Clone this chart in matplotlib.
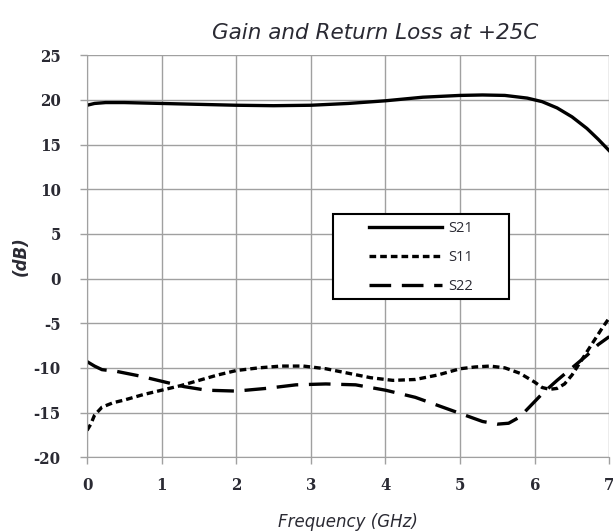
import matplotlib.pyplot as plt
from matplotlib.patches import Rectangle

plt.rcParams['axes.unicode_minus'] = False

#-------- data --------
freq_s21 = [0.0, 0.1, 0.25, 0.5, 1.0, 1.5, 2.0, 2.5, 3.0, 3.5, 4.0, 4.5, 5.0, 5.3, 5.6, 5.9, 6.1, 6.3, 6.5, 6.7, 6.85, 7.0]
s21 = [19.4, 19.6, 19.7, 19.7, 19.6, 19.5, 19.4, 19.35, 19.4, 19.6, 19.9, 20.3, 20.5, 20.55, 20.5, 20.2, 19.8, 19.1, 18.1, 16.8, 15.6, 14.3]

freq_s11 = [0.0, 0.05, 0.1, 0.2, 0.35, 0.5, 0.75, 1.0, 1.25, 1.5, 1.75, 2.0, 2.3, 2.6, 2.9, 3.2, 3.5, 3.8, 4.1, 4.4, 4.7, 5.0, 5.2, 5.4, 5.6, 5.8, 6.0, 6.1, 6.2, 6.3, 6.4, 6.5, 6.6, 6.7, 6.8, 6.9, 7.0]
s11 = [-17.0, -16.3, -15.3, -14.4, -13.9, -13.6, -13.0, -12.5, -12.0, -11.4, -10.8, -10.3, -10.0, -9.8, -9.8, -10.1, -10.6, -11.1, -11.4, -11.3, -10.8, -10.1, -9.9, -9.8, -10.0, -10.6, -11.6, -12.2, -12.4, -12.3, -11.8, -10.8, -9.5, -8.2, -6.9, -5.6, -4.4]

freq_s22 = [0.0, 0.1, 0.2, 0.4, 0.7, 1.0, 1.3, 1.6, 2.0, 2.4, 2.8, 3.2, 3.6, 4.0, 4.4, 4.8, 5.1, 5.3, 5.5, 5.65, 5.8, 5.95, 6.1, 6.3, 6.5, 6.7, 6.85, 7.0]
s22 = [-9.3, -9.8, -10.2, -10.4, -10.9, -11.5, -12.1, -12.5, -12.6, -12.3, -11.9, -11.8, -11.9, -12.5, -13.3, -14.5, -15.4, -16.0, -16.3, -16.2, -15.5, -14.2, -12.9, -11.4, -10.0, -8.6, -7.4, -6.5]

x_ticks = [0, 1, 2, 3, 4, 5, 6, 7]
y_ticks = [-20, -15, -10, -5, 0, 5, 10, 15, 20, 25]

#-------- figure --------
fig = plt.figure(figsize=(6.13, 5.31), dpi=100)
ax = fig.add_axes([0.142, 0.139, 0.852, 0.757])

lw = 2.4
ax.plot(freq_s21, s21, color='black', lw=lw, label='S21')
ax.plot(freq_s11, s11, color='black', lw=lw, dashes=(2.0, 1.2), label='S11')
ax.plot(freq_s22, s22, color='black', lw=lw, dashes=(6.5, 3.2), label='S22')

ax.set_xlim(0, 7)
ax.set_ylim(-20, 25)
ax.set_xticks(x_ticks)
ax.set_yticks(y_ticks)
ax.grid(True, color='#a0a0a0', lw=1.0)
ax.set_axisbelow(True)
for s in ['top', 'right']:
    ax.spines[s].set_visible(False)
for s in ['left', 'bottom']:
    ax.spines[s].set_color('#a0a0a0')
ax.tick_params(colors='#a0a0a0', length=5, width=1.0, labelcolor='#2a2a33')
ax.tick_params(axis='x', pad=9)
ax.tick_params(axis='y', pad=14)

for lab in ax.get_xticklabels() + ax.get_yticklabels():
    lab.set_fontfamily('DejaVu Serif')
    lab.set_fontweight('bold')
    lab.set_fontsize(12)
    lab.set_fontstretch('condensed')

fig.text(0.612, 0.938, 'Gain and Return Loss at +25C', fontsize=15.5, style='italic',
         family='DejaVu Sans', color='#2a2a33', ha='center', va='center')
ax.set_xlabel('Frequency (GHz)', fontsize=12, style='italic', color='#2a2a33', labelpad=14)
ax.set_ylabel('(dB)', fontsize=12, style='italic', fontweight='bold', color='#2a2a33', labelpad=3)

# legend box
ax.add_patch(Rectangle((0.471, 0.393), 0.336, 0.211, transform=ax.transAxes,
                       facecolor='white', edgecolor='black', lw=1.5, zorder=4))
leg = ax.legend(loc='upper left', bbox_to_anchor=(0.54, 0.587), fontsize=10.5,
                frameon=False, handlelength=5.0, borderpad=0, labelspacing=0.95,
                handletextpad=0.4, borderaxespad=0)
leg.set_zorder(5)
for t in leg.get_texts():
    t.set_fontfamily('Open Sans')
    t.set_color('#2a2a33')

plt.savefig('out.png', dpi=100)
